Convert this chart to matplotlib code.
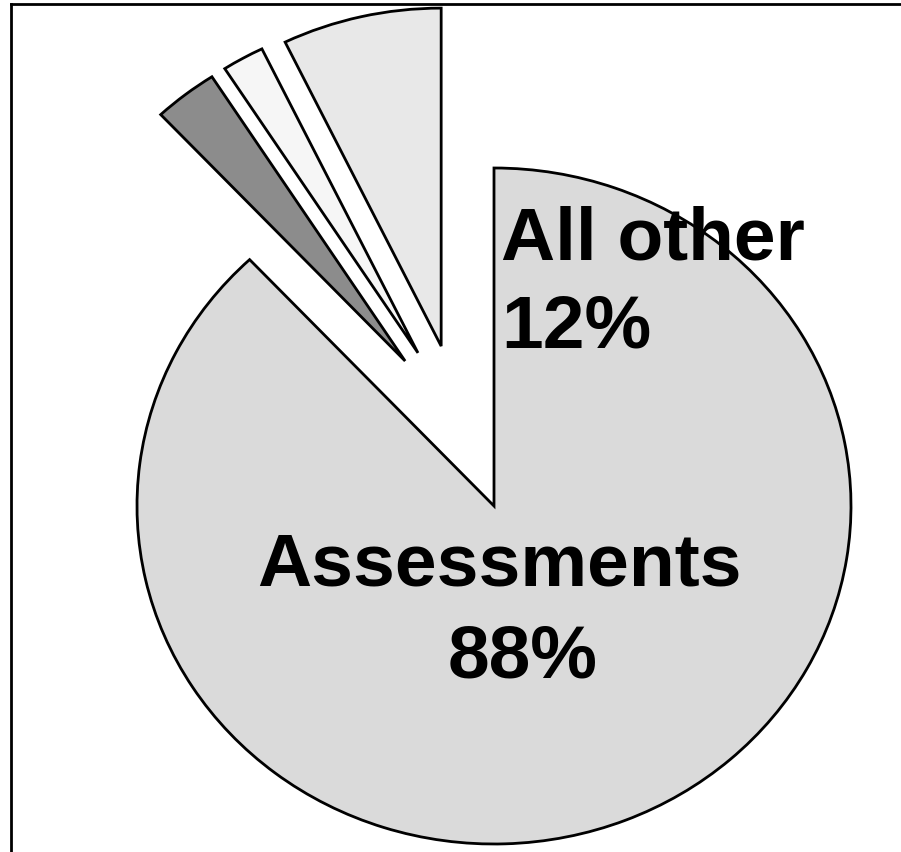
import matplotlib
matplotlib.use("Agg")
import matplotlib.pyplot as plt
from matplotlib.lines import Line2D

# ---- data ----
categories = ["Assessments", "Other A", "Other B", "Other C"]
shares = [88.0, 2.9, 1.9, 7.2]
colors = ["#dadada", "#8c8c8c", "#f6f6f6", "#e8e8e8"]
label_main = ["Assessments", "88%"]
label_other = ["All other", "12%"]

W, H = 901, 852
fig = plt.figure(figsize=(W / 100, H / 100), dpi=100)
ax = fig.add_axes([0, 0, 1, 1])

# pie geometry (pixel layout of the reference)
cx, cy = 494, 506
rx, ry = 357, 338

wedges, _ = ax.pie(shares, colors=colors, startangle=90, counterclock=False,
                   radius=1.0,
                   wedgeprops=dict(edgecolor="black", linewidth=2.0,
                                   joinstyle="miter"))

# pull the "all other" slices out (offsets in data units)
offsets = [(0, 0), (-0.249, 0.429), (-0.213, 0.453), (-0.148, 0.473)]
for w, off in zip(wedges, offsets):
    w.set_center(off)

ax.set_aspect("auto")
ax.set_xlim(-cx / rx, (W - cx) / rx)
ax.set_ylim(-(H - cy) / ry, cy / ry)
ax.axis("off")

font = "Liberation Sans"
fs = 54
fig.text(501 / W, 1 - 260 / H, label_other[0], fontsize=fs, fontweight="bold",
         family=font, ha="left", va="baseline")
fig.text(501 / W, 1 - 348 / H, label_other[1], fontsize=fs, fontweight="bold",
         family=font, ha="left", va="baseline")
fig.text(499 / W, 1 - 585 / H, label_main[0], fontsize=fs, fontweight="bold",
         family=font, ha="center", va="baseline")
fig.text(523 / W, 1 - 678 / H, label_main[1], fontsize=fs, fontweight="bold",
         family=font, ha="center", va="baseline")

# frame lines (top and left)
fig.add_artist(Line2D([11 / W, 1], [1 - 4 / H, 1 - 4 / H], color="black", lw=2.0))
fig.add_artist(Line2D([11 / W, 11 / W], [0, 1 - 4 / H], color="black", lw=2.0))

fig.savefig("out.png", dpi=100)
